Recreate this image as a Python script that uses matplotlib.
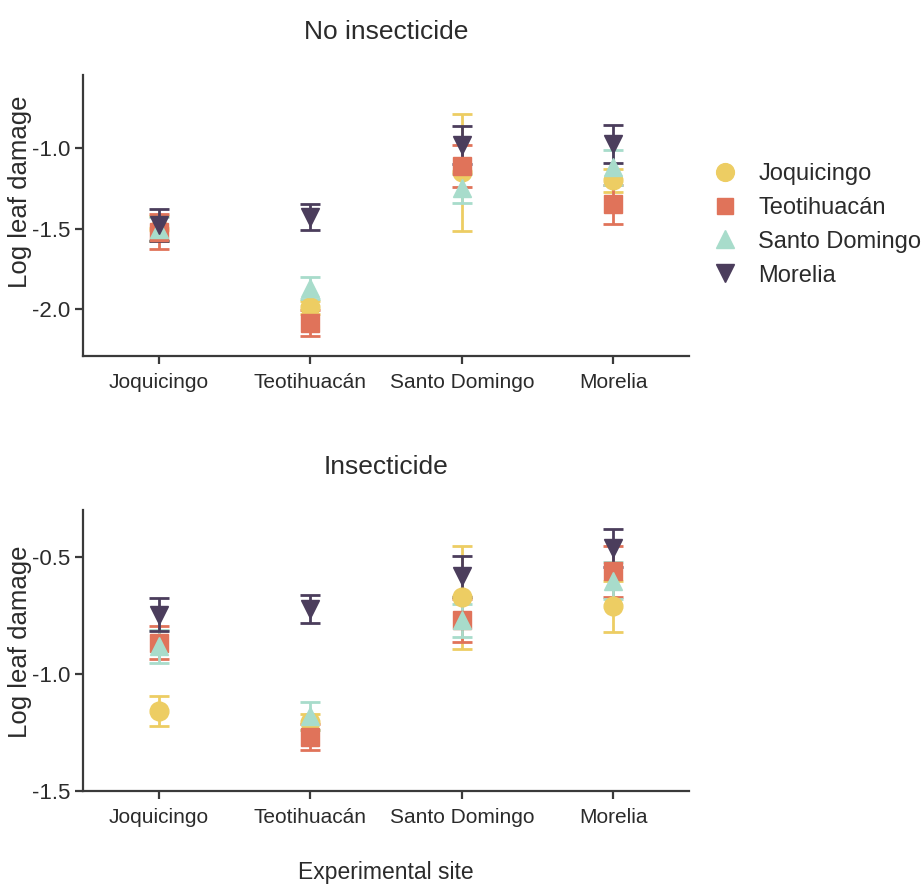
import matplotlib.pyplot as plt
from matplotlib.lines import Line2D
import numpy as np

plt.rcParams['font.family'] = ['Liberation Sans', 'DejaVu Sans']

sites = ["Joquicingo", "Teotihuacán", "Santo Domingo", "Morelia"]
colors = ["#EDCD63", "#E0735A", "#A8DCCB", "#4B3D5C"]
markers = ["o", "s", "^", "v"]
msizes = [13.5, 12.5, 13, 13]

# No insecticide: mean and error per source population at each site
no_ins_mean = {
    "Joquicingo":    [-1.50, -1.99, -1.15, -1.20],
    "Teotihuacán":   [-1.52, -2.09, -1.11, -1.35],
    "Santo Domingo": [-1.50, -1.87, -1.25, -1.12],
    "Morelia":       [-1.48, -1.43, -0.98, -0.975],
}
no_ins_err = {
    "Joquicingo":    [0.08, 0.04, 0.365, 0.07],
    "Teotihuacán":   [0.11, 0.08, 0.13, 0.12],
    "Santo Domingo": [0.07, 0.07, 0.09, 0.11],
    "Morelia":       [0.10, 0.08, 0.12, 0.12],
}

# Insecticide
ins_mean = {
    "Joquicingo":    [-1.157, -1.205, -0.67, -0.71],
    "Teotihuacán":   [-0.865, -1.27, -0.77, -0.56],
    "Santo Domingo": [-0.88, -1.18, -0.77, -0.60],
    "Morelia":       [-0.745, -0.72, -0.58, -0.46],
}
ins_err = {
    "Joquicingo":    [0.065, 0.035, 0.22, 0.11],
    "Teotihuacán":   [0.07, 0.055, 0.09, 0.11],
    "Santo Domingo": [0.07, 0.06, 0.07, 0.08],
    "Morelia":       [0.07, 0.06, 0.088, 0.08],
}

fig = plt.figure(figsize=(9.21, 8.84), dpi=100)
ax1 = fig.add_axes([83 / 921, 1 - 356 / 884, 606 / 921, 281 / 884])
ax2 = fig.add_axes([83 / 921, 1 - 791 / 884, 606 / 921, 281 / 884])

x = np.arange(len(sites))
spine_col = "#3a3a3a"
text_col = "#2b2b2b"


def draw(ax, means, errs, title, ylim, yticks, label_y):
    for pop, col, mk, ms in zip(sites, colors, markers, msizes):
        ax.errorbar(x, means[pop], yerr=errs[pop], fmt=mk, color=col,
                    markersize=ms, mec=col, ecolor=col, elinewidth=2,
                    capsize=7, capthick=2, linestyle="none")
    ax.set_xlim(-0.5, 3.5)
    ax.set_ylim(*ylim)
    ax.set_yticks(yticks)
    ax.set_yticklabels(["%.1f" % t for t in yticks])
    ax.set_xticks(x)
    ax.set_xticklabels(sites)
    for s in ["top", "right"]:
        ax.spines[s].set_visible(False)
    for s in ["left", "bottom"]:
        ax.spines[s].set_color(spine_col)
        ax.spines[s].set_linewidth(1.6)
    ax.tick_params(axis="both", colors=spine_col, width=1.6, length=6,
                   labelcolor=text_col, pad=3)
    ax.tick_params(axis="x", labelsize=15, pad=6)
    ax.tick_params(axis="y", labelsize=16)
    ax.set_ylabel("Log leaf damage", fontsize=18.5, color=text_col)
    ax.yaxis.set_label_coords(-0.084, label_y)
    ax.set_title(title, fontsize=19, color=text_col, pad=26)


draw(ax1, no_ins_mean, no_ins_err, "No insecticide", (-2.294, -0.544),
     [-2.0, -1.5, -1.0], 0.585)
draw(ax2, ins_mean, ins_err, "Insecticide", (-1.5, -0.297),
     [-1.5, -1.0, -0.5], 0.53)
fig.text(386 / 921, 1 - 879 / 884, "Experimental site", fontsize=16.5,
         color=text_col, ha="center", va="baseline")

handles = [Line2D([], [], marker=mk, color=col, linestyle="none", markersize=ms * 0.95)
           for mk, col, ms in zip(markers, colors, msizes)]
ax1.legend(handles, sites, loc="upper left", bbox_to_anchor=(1.021, 0.72),
           frameon=False, fontsize=17, handletextpad=0.8, labelspacing=0.5,
           handlelength=1.2, borderaxespad=0, labelcolor=text_col)

fig.savefig("out.png", dpi=100)
